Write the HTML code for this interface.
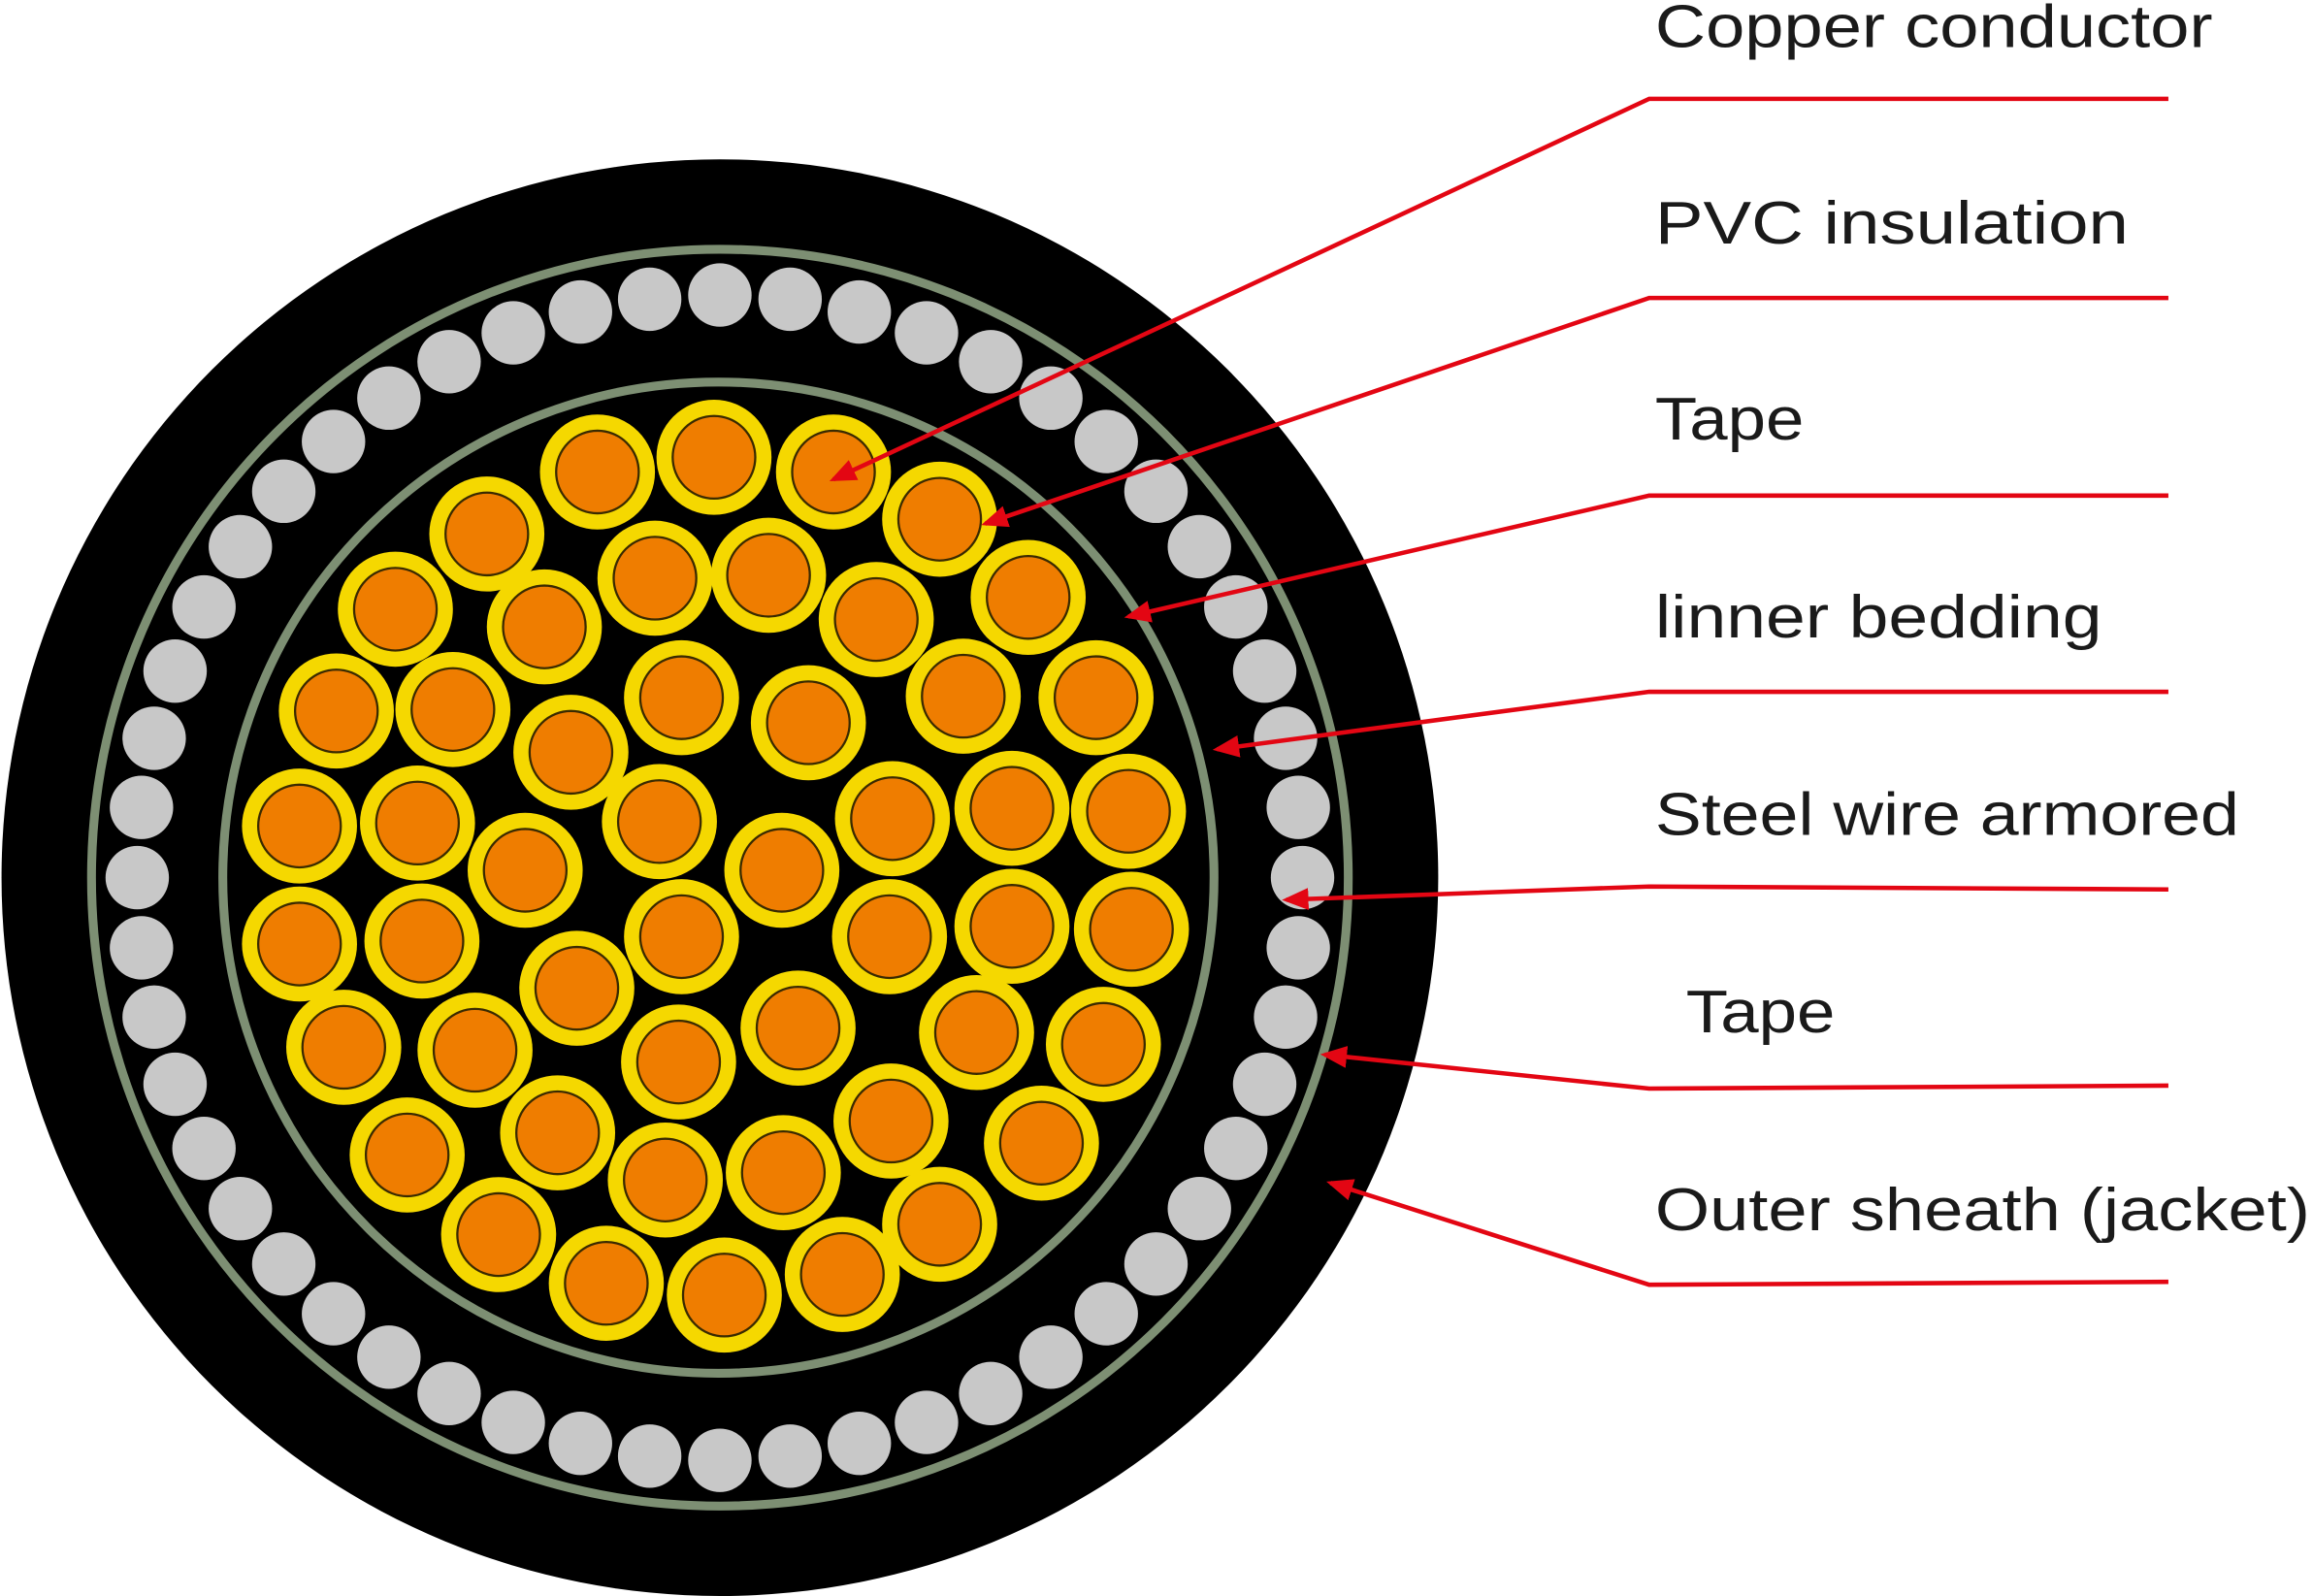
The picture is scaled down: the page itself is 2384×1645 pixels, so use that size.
<!DOCTYPE html>
<html><head><meta charset="utf-8"><style>
html,body{margin:0;padding:0;background:#fff;width:2384px;height:1645px;overflow:hidden}
svg{display:block}
text{font-family:"Liberation Sans",sans-serif;font-size:41px;fill:#1a1a1a}
</style></head><body>
<svg width="2384" height="1645" viewBox="0 0 1568 1082" xmlns="http://www.w3.org/2000/svg">
<defs>
<marker id="ar" markerWidth="6" markerHeight="5" refX="5" refY="2.5" orient="auto" markerUnits="strokeWidth">
<path d="M0,0 L6,2.5 L0,5 Z" fill="#e30613"/></marker>
</defs>
<circle cx="488" cy="595" r="487" fill="#000"/>
<circle cx="488" cy="595" r="426" fill="none" stroke="#7d8f73" stroke-width="6"/>
<g id="wires" fill="#c8c8c8"></g>
<circle cx="487" cy="595" r="336" fill="none" stroke="#7d8f73" stroke-width="6"/>
<g id="cond"></g>
<g stroke="#e30613" stroke-width="3" fill="none">
<path d="M1470,67 L1118,67 L565,325" marker-end="url(#ar)"/>
<path d="M1470,202 L1118,202 L668,355" marker-end="url(#ar)"/>
<path d="M1470,336 L1118,336 L765,418" marker-end="url(#ar)"/>
<path d="M1470,469 L1118,469 L825,508" marker-end="url(#ar)"/>
<path d="M1470,603 L1118,601 L872,610" marker-end="url(#ar)"/>
<path d="M1470,736 L1118,738 L898,715" marker-end="url(#ar)"/>
<path d="M1470,869 L1118,871 L902,802" marker-end="url(#ar)"/>
</g>
<text x="1122" y="32" textLength="378" lengthAdjust="spacingAndGlyphs">Copper conductor</text>
<text x="1122" y="165" textLength="321" lengthAdjust="spacingAndGlyphs">PVC  insulation</text>
<text x="1122" y="298" textLength="101" lengthAdjust="spacingAndGlyphs">Tape</text>
<text x="1122" y="432" textLength="303" lengthAdjust="spacingAndGlyphs">linner bedding</text>
<text x="1122" y="566" textLength="396" lengthAdjust="spacingAndGlyphs">Steel wire armored</text>
<text x="1143" y="700" textLength="101" lengthAdjust="spacingAndGlyphs">Tape</text>
<text x="1122" y="834" textLength="444" lengthAdjust="spacingAndGlyphs">Outer sheath (jacket)</text>
</svg>
<script>
var ns="http://www.w3.org/2000/svg";
var w=document.getElementById("wires");
var N=52;
for(var i=0;i<N;i++){var a=i/N*2*Math.PI;var c=document.createElementNS(ns,"circle");
c.setAttribute("cx",488+395*Math.cos(a));c.setAttribute("cy",595+395*Math.sin(a));c.setAttribute("r",21.5);w.appendChild(c);}
var P=[[405,320],[484,310],[565,320],[637,352],[330,362],[444,392],[521,390],[594,420],[697,405],
[268,413],[369,425],[462,473],[548,490],[653,472],[743,473],[228,482],[307,481],[387,510],[686,548],[765,550],[605,555],
[203,560],[283,558],[356,590],[447,557],[530,590],[203,640],[286,638],[462,635],[603,635],[686,628],[767,630],
[391,670],[541,697],[662,700],[748,708],[233,710],[322,712],[460,720],[378,768],[604,760],[706,775],
[276,783],[451,800],[531,795],[338,837],[637,830],[411,870],[491,878],[571,864]];
var g=document.getElementById("cond");
P.forEach(function(p){var c=document.createElementNS(ns,"circle");c.setAttribute("cx",p[0]);c.setAttribute("cy",p[1]);c.setAttribute("r",39);c.setAttribute("fill","#f5d800");g.appendChild(c);
var d=document.createElementNS(ns,"circle");d.setAttribute("cx",p[0]);d.setAttribute("cy",p[1]);d.setAttribute("r",28);d.setAttribute("fill","#ef7d00");d.setAttribute("stroke","#3a2a00");d.setAttribute("stroke-width","1.5");g.appendChild(d);});
</script>
</body></html>
